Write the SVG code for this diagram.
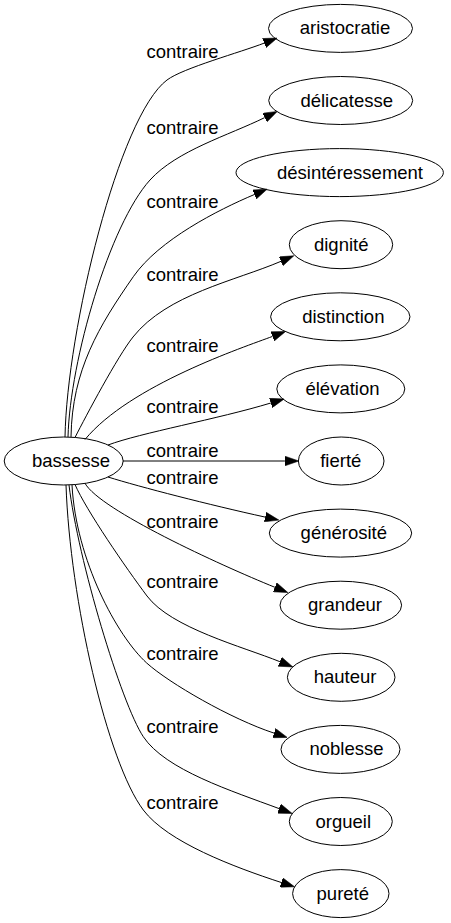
<svg xmlns="http://www.w3.org/2000/svg" width="451" height="923" viewBox="0 0 451 923">
<style>
  .node ellipse { fill: none; stroke: #000; stroke-width: 1; }
  text { font-family: "Liberation Sans", Arial, sans-serif; font-size: 18.5px; fill: #000; text-anchor: middle; }
  .edges path { fill: none; stroke: #000; stroke-width: 1; marker-end: url(#arrow); }
</style>
<defs>
  <marker id="arrow" markerUnits="userSpaceOnUse" markerWidth="14" markerHeight="10" viewBox="0 0 13.5 9.4" refX="0" refY="4.7" orient="auto">
    <path d="M0,0 L13.5,4.7 L0,9.4 z" fill="#000" stroke="#000" stroke-width="0.5"/>
  </marker>
</defs>
<rect width="451" height="923" fill="#fff"/>
<g class="edges">
  <path d="M65,437 C67,330 119,116 167,80 C183,68 240.9,52.2 264.2,43.1"/>
  <path d="M68,437 C70,360 109.8,224.4 150,180 C176.8,150.4 228.8,135.3 264.7,117.6"/>
  <path d="M71,437 C72,370 99.1,325.9 133.3,276.7 C159,239.8 217.6,210.1 254.4,194.5"/>
  <path d="M75,437.5 C86.3,415.3 117.5,356.5 133,337 C167.1,294.1 235,281 281,261.3"/>
  <path d="M85,439.5 C130,385 244.4,347 272.5,336.4"/>
  <path d="M108,445 C140,433 218,419 270.8,403"/>
  <path d="M123,461 L284.9,461"/>
  <path d="M108,477 C140,487 210,505 265.2,517.1"/>
  <path d="M85,483.3 C100,510 219.3,564.7 274.9,587.3"/>
  <path d="M75,484.5 C86,510 126,568 147,596 C171,628 242.9,646.7 279.9,661.7"/>
  <path d="M72,485 C76,560 117.1,636.2 146.7,663 C168.9,683.1 231.3,719.1 274,733.1"/>
  <path d="M69,485 C78,560 121.3,703.5 143.3,736.7 C165.3,769.9 232.2,791.1 279.1,808.6"/>
  <path d="M66,485 C70,600 107.3,762 143.3,810 C167.3,842 233.8,867 281.3,882.5"/>
  <text x="182.5" y="58">contraire</text>
  <text x="182.5" y="134">contraire</text>
  <text x="182.5" y="208">contraire</text>
  <text x="182.5" y="281">contraire</text>
  <text x="182.5" y="351.5">contraire</text>
  <text x="182.5" y="412.5">contraire</text>
  <text x="182.5" y="456.5">contraire</text>
  <text x="182.5" y="483.5">contraire</text>
  <text x="182.5" y="528">contraire</text>
  <text x="182.5" y="588">contraire</text>
  <text x="182.5" y="659.5">contraire</text>
  <text x="182.5" y="733">contraire</text>
  <text x="182.5" y="809">contraire</text>
</g>
<g id="bassesse" class="node"><ellipse cx="63.7" cy="461" rx="59.5" ry="24"/><text x="71" y="467">bassesse</text></g>
<g id="aristocratie" class="node"><ellipse cx="340.5" cy="28.4" rx="72" ry="24"/><text x="345" y="34.4">aristocratie</text></g>
<g id="delicatesse" class="node"><ellipse cx="340.7" cy="100.5" rx="72" ry="24"/><text x="346.7" y="106.5">délicatesse</text></g>
<g id="desinteressement" class="node"><ellipse cx="339.7" cy="172.6" rx="103.7" ry="24"/><text x="350" y="178.6">désintéressement</text></g>
<g id="dignite" class="node"><ellipse cx="341" cy="244.7" rx="51.7" ry="24"/><text x="341.2" y="250.7">dignité</text></g>
<g id="distinction" class="node"><ellipse cx="340.3" cy="316.8" rx="69.7" ry="24"/><text x="343.3" y="322.8">distinction</text></g>
<g id="elevation" class="node"><ellipse cx="340.8" cy="388.9" rx="64" ry="24"/><text x="342.5" y="394.9">élévation</text></g>
<g id="fierte" class="node"><ellipse cx="341.2" cy="461" rx="42.8" ry="24"/><text x="340.8" y="467">fierté</text></g>
<g id="generosite" class="node"><ellipse cx="340.5" cy="533.1" rx="71.2" ry="24"/><text x="343.8" y="539.1">générosité</text></g>
<g id="grandeur" class="node"><ellipse cx="340.8" cy="605.2" rx="60.8" ry="24"/><text x="345" y="611.2">grandeur</text></g>
<g id="hauteur" class="node"><ellipse cx="341.2" cy="677.3" rx="53.8" ry="24"/><text x="345" y="683.3">hauteur</text></g>
<g id="noblesse" class="node"><ellipse cx="340.5" cy="749.4" rx="59.5" ry="24"/><text x="346.5" y="755.4">noblesse</text></g>
<g id="orgueil" class="node"><ellipse cx="340.8" cy="821.5" rx="51.5" ry="24"/><text x="343.3" y="827.5">orgueil</text></g>
<g id="purete" class="node"><ellipse cx="340.8" cy="893.6" rx="48.2" ry="24"/><text x="342.8" y="899.6">pureté</text></g>
</svg>
